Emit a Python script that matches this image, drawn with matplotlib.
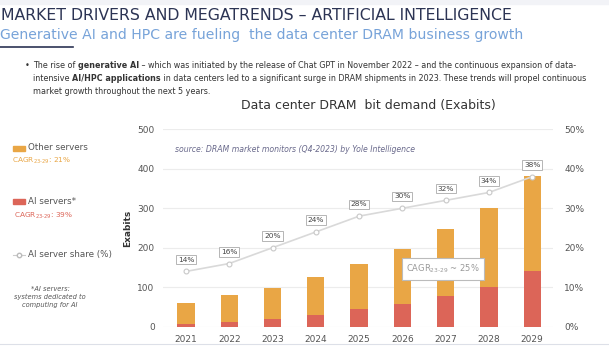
import matplotlib.pyplot as plt
import numpy as np

W, H = 609, 346

years = ["2021", "2022", "2023", "2024", "2025", "2026", "2027", "2028", "2029"]
ai_servers = [7, 13, 19, 30, 44, 58, 78, 101, 142]
total_demand = [60, 80, 97, 125, 158, 197, 247, 301, 382]
ai_share = [14, 16, 20, 24, 28, 30, 32, 34, 38]
left_ticks = [0, 100, 200, 300, 400, 500]
right_ticks = [0, 10, 20, 30, 40, 50]

orange = "#e9a645"
red = "#dc6558"
navy = "#2c3454"
blue = "#77a3d9"
gray_txt = "#555555"

other_servers = [t - a for t, a in zip(total_demand, ai_servers)]

fig = plt.figure(figsize=(W / 100, H / 100), dpi=100)
fig.patch.set_facecolor("white")


def fx(px):
    return px / W


def fy(py):
    return 1 - py / H


# top strip and bottom line
fig.patches.append(plt.Rectangle((0, fy(4)), 1, 4 / H, transform=fig.transFigure,
                                 color="#f2f3f7", zorder=0))
fig.add_artist(plt.Line2D([0, 1], [fy(344), fy(344)], color="#dde0e8", lw=0.8))

# header
fig.text(fx(1), fy(16), "MARKET DRIVERS AND MEGATRENDS \u2013 ARTIFICIAL INTELLIGENCE",
         fontsize=11.3, color=navy, va="center", ha="left")
fig.text(fx(0.5), fy(35), "Generative AI and HPC are fueling  the data center DRAM business growth",
         fontsize=10.1, color=blue, va="center", ha="left")
fig.add_artist(plt.Line2D([0, fx(73)], [fy(47), fy(47)], color=navy, lw=1.2))

renderer = fig.canvas.get_renderer()


def text_parts(x, y, parts, size, color):
    for txt, weight in parts:
        t = fig.text(fx(x), fy(y), txt, fontsize=size, fontweight=weight,
                     color=color, va="center", ha="left")
        x += t.get_window_extent(renderer).width


bullet_size = 5.8
fig.text(fx(25), fy(66), "\u2022", fontsize=bullet_size, color="#333333", va="center")
text_parts(33, 66, [("The rise of ", "normal"), ("generative AI", "bold"),
                    (" \u2013 which was initiated by the release of Chat GPT in November 2022 \u2013 "
                     "and the continuous expansion of data-", "normal")], bullet_size, "#333333")
text_parts(33, 78.5, [("intensive ", "normal"), ("AI/HPC applications", "bold"),
                      (" in data centers led to a significant surge in DRAM shipments in 2023. "
                       "These trends will propel continuous", "normal")], bullet_size, "#333333")
text_parts(33, 91, [("market growth throughout the next 5 years.", "normal")], bullet_size, "#333333")

# chart title
fig.text(fx(368), fy(105), "Data center DRAM  bit demand (Exabits)", fontsize=9,
         color="#333333", ha="center", va="center")

# left legend
fig.patches.append(plt.Rectangle((fx(13), fy(151)), fx(12), 5 / H, transform=fig.transFigure,
                                 color=orange))
fig.text(fx(28), fy(148), "Other servers", fontsize=6.3, color=gray_txt, va="center")
fig.text(fx(12), fy(161), r"CAGR$_{23\text{-}29}$: 21%", fontsize=5.3, color=orange, va="center")
fig.patches.append(plt.Rectangle((fx(13), fy(203.5)), fx(12), 5 / H, transform=fig.transFigure,
                                 color=red))
fig.text(fx(28), fy(201), "AI servers*", fontsize=6.3, color=gray_txt, va="center")
fig.text(fx(14), fy(216), r"CAGR$_{23\text{-}29}$: 39%", fontsize=5.3, color=red, va="center")
fig.add_artist(plt.Line2D([fx(13), fx(19), fx(25)], [fy(255)] * 3, color="#cccccc", lw=0.8,
                          marker="o", markevery=[1], ms=3.2, mfc="white", mec="#bbbbbb"))
fig.text(fx(28), fy(255), "AI server share (%)", fontsize=6.3, color=gray_txt, va="center")
fig.text(fx(50), fy(297), "*AI servers:\nsystems dedicated to\ncomputing for AI", fontsize=4.8,
         style="italic", color=gray_txt, ha="center", va="center", linespacing=1.3)

# chart
ax = fig.add_axes([fx(163), fy(326.7), fx(553) - fx(163), fy(129.3) - fy(326.7)])
x = np.arange(len(years))
ax.bar(x, ai_servers, width=0.4, color=red, zorder=2)
ax.bar(x, other_servers, width=0.4, bottom=ai_servers, color=orange, zorder=2)
ax.set_ylim(0, 500)
ax.set_xlim(-0.53, 8.48)
ax.set_yticks(left_ticks)
ax.set_xticks(x)
ax.set_xticklabels(years)
ax.grid(axis="y", color="#ececec", lw=0.8, zorder=0)
ax.tick_params(length=0, labelsize=6.5, labelcolor=gray_txt, pad=6)
for s in ax.spines.values():
    s.set_visible(False)
ax.set_ylabel("Exabits", fontsize=6.5, color="#333333", fontweight="bold", labelpad=4)
ax.text(0.03, 0.9, "source: DRAM market monitors (Q4-2023) by Yole Intelligence",
        transform=ax.transAxes, fontsize=5.6, style="italic", color="#6a6a8c", va="center")

ax2 = ax.twinx()
ax2.set_ylim(0, 50)
ax2.set_yticks(right_ticks)
ax2.set_yticklabels([f"{v}%" for v in right_ticks])
ax2.tick_params(length=0, labelsize=6.5, labelcolor=gray_txt, pad=8)
for s in ax2.spines.values():
    s.set_visible(False)
ax2.plot(x, ai_share, color="#d9d9d9", lw=1.2, marker="o", ms=3.5, mfc="white",
         mec="#c8c8c8", mew=0.8, zorder=3)
for xi, v in zip(x, ai_share):
    ax2.annotate(f"{v}%", (xi, v), xytext=(0, 8.5), textcoords="offset points",
                 ha="center", va="center", fontsize=5.3, color="#444444",
                 bbox=dict(boxstyle="square,pad=0.25", fc="white", ec="#aaaaaa", lw=0.6))

ax2.text(5.94, 14.6, r"CAGR$_{23\text{-}29}$ ~ 25%", ha="center", va="center", fontsize=6,
         color="#999999", zorder=5,
         bbox=dict(boxstyle="square,pad=0.55", fc="white", ec="#bbbbbb", lw=0.8))

fig.savefig("out.png", dpi=100)
